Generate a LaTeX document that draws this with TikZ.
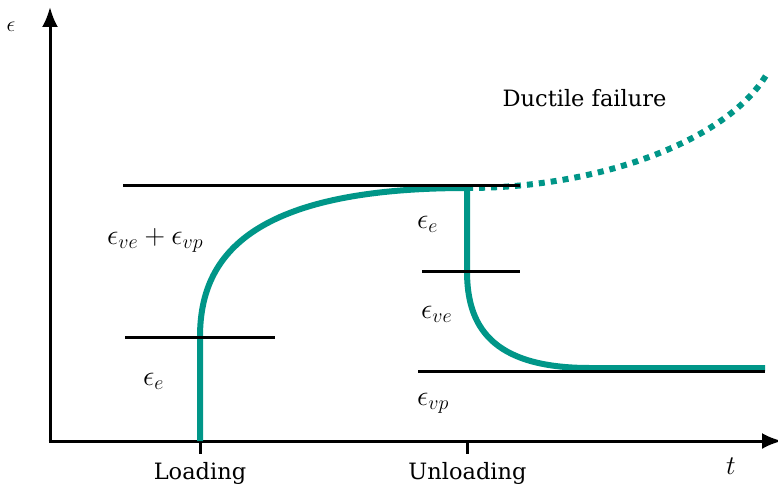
\RequirePackage{fix-cm}
\documentclass[tikz,border=0pt]{standalone}
\usepackage{fontspec}
\setmainfont{DejaVu Serif}
\usetikzlibrary{arrows.meta}
\definecolor{curveteal}{RGB}{0,150,136}
\tikzset{
  axisline/.style={line width=3pt, -{Latex[length=20pt,width=16pt]}},
  tickmark/.style={line width=3pt},
  levelline/.style={line width=3pt},
  curveline/.style={line width=6pt, draw=curveteal},
  failureline/.style={curveline, dash pattern=on 6pt off 6pt},
  txtlbl/.style={font=\fontsize{22.5}{26}\selectfont, inner sep=0pt, anchor=base},
  mathlbl/.style={font=\fontsize{28.5}{32}\selectfont, inner sep=0pt, anchor=base west},
}
\begin{document}
\begin{tikzpicture}[x=1pt,y=-1pt]
\useasboundingbox (0,0) rectangle (778,487);
% coordinates
\coordinate (O) at (50,441);
\coordinate (Oleft) at (48.5,441);
\coordinate (ytip) at (50,7);
\coordinate (xtip) at (782,441);
\coordinate (load) at (200,441);
\coordinate (loadtick) at (200,454);
\coordinate (unload) at (467,441);
\coordinate (unloadtick) at (467,454);
\coordinate (loadknee) at (200,337);
\coordinate (peak) at (467,188);
\coordinate (unloadknee) at (467,271);
\coordinate (flatstart) at (590,368);
\coordinate (flatend) at (765,368);
\coordinate (failend) at (768,72);
\coordinate (topL) at (123,185);
\coordinate (topR) at (520,185);
\coordinate (eL) at (125,337);
\coordinate (eR) at (275,337);
\coordinate (veL) at (422,271);
\coordinate (veR) at (520,271);
\coordinate (vpL) at (418,371);
\coordinate (vpR) at (765,371);

% axes
\draw[axisline] (O) -- (ytip);
\draw[axisline] (Oleft) -- (xtip);
\draw[tickmark] (load) -- (loadtick);
\draw[tickmark] (unload) -- (unloadtick);

% curves
\draw[curveline] (load) -- (loadknee) .. controls (200,260) and (245,188) .. (peak);
\draw[curveline] (peak) -- (unloadknee) .. controls (467,325) and (490,368) .. (flatstart) -- (flatend);
\draw[failureline] (peak) .. controls (600,188) and (730,140) .. (failend);

% level lines
\draw[levelline] (topL) -- (topR);
\draw[levelline] (eL) -- (eR);
\draw[levelline] (veL) -- (veR);
\draw[levelline] (vpL) -- (vpR);

% labels
\node[inner sep=0pt, font=\fontsize{22}{26}\selectfont] (ylab) at (11,27) {$\epsilon$};
\node[inner sep=0pt, font=\fontsize{27}{31}\selectfont] (xlab) at (731,466) {$t$};
\node[txtlbl] (fail) at (584.5,106) {Ductile failure};
\node[txtlbl] (loading) at (200,479) {Loading};
\node[txtlbl] (unloading) at (467.5,479) {Unloading};
\node[mathlbl] (sumlab) at (107,244) {$\epsilon_{ve}+\epsilon_{vp}$};
\node[mathlbl] (elab1) at (143,385) {$\epsilon_e$};
\node[mathlbl] (elab2) at (417,228) {$\epsilon_e$};
\node[mathlbl] (velab) at (421,318) {$\epsilon_{ve}$};
\node[mathlbl] (vplab) at (417,405) {$\epsilon_{vp}$};
\end{tikzpicture}
\end{document}
